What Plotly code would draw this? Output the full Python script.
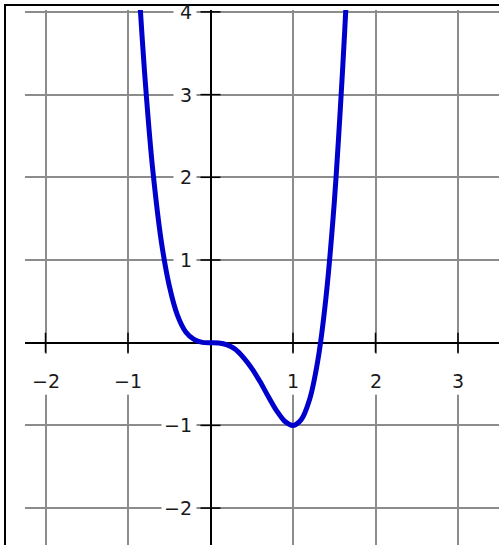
import plotly.graph_objects as go

# Values
curve_x = [-0.9, -0.85, -0.8, -0.75, -0.7, -0.6, -0.5, -0.4, -0.3, -0.2, -0.1, 0.0,
           0.1, 0.2, 0.3, 0.4, 0.5, 0.6, 0.7, 0.8, 0.9, 1.0, 1.1, 1.2, 1.3, 1.4,
           1.5, 1.55, 1.6, 1.65, 1.7]
curve_y = [4.88, 4.02, 3.28, 2.64, 2.09, 1.25, 0.69, 0.33, 0.13, 0.04, 0.004, 0.0,
           -0.004, -0.027, -0.08, -0.18, -0.31, -0.47, -0.65, -0.82, -0.95, -1.0, -0.93, -0.69, -0.22, 0.55,
           1.69, 2.44, 3.28, 4.22, 5.4]

x_ticks = [-2, -1, 1, 2, 3]
y_ticks = [-2, -1, 1, 2, 3, 4]

x_range = [-2.2485, 3.497]
y_range = [-2.446, 4.023]


def lab(v):
    return ("\u2212" + str(abs(v))) if v < 0 else str(v)


fig = go.Figure(go.Scatter(
    x=curve_x, y=curve_y, mode="lines",
    line=dict(color="#0000cc", width=5, shape="spline", smoothing=0.8),
    hoverinfo="skip", showlegend=False))

shapes = []
annotations = []
font = dict(family="DejaVu Sans", size=19, color="#1a1a1a")

for t in x_ticks:
    # white gap in the vertical grid line behind the label
    shapes.append(dict(type="rect", xref="x", yref="y", xsizemode="pixel", xanchor=t,
                       x0=-5, x1=5, ysizemode="pixel", yanchor=0, y0=-11, y1=-52,
                       fillcolor="white", line=dict(width=0), layer="between"))
    # tick cross
    shapes.append(dict(type="line", xref="x", yref="y", x0=t, x1=t, ysizemode="pixel",
                       yanchor=0, y0=-10, y1=10, line=dict(color="black", width=1.5),
                       layer="above"))
    annotations.append(dict(x=t, y=0, xref="x", yref="y", text=lab(t), showarrow=False,
                            xanchor="center", yanchor="middle", yshift=-38.5,
                            font=font, borderpad=0))

for t in y_ticks:
    n = len(lab(t))
    shapes.append(dict(type="rect", xref="x", yref="y", xsizemode="pixel", xanchor=0,
                       x0=-15 - (10 + 12 * n), x1=-14, ysizemode="pixel", yanchor=t,
                       y0=-4, y1=4, fillcolor="white", line=dict(width=0), layer="between"))
    shapes.append(dict(type="line", xref="x", yref="y", y0=t, y1=t, xsizemode="pixel",
                       xanchor=0, x0=-10, x1=10, line=dict(color="black", width=1.5),
                       layer="above"))
    annotations.append(dict(x=0, y=t, xref="x", yref="y", text=lab(t), showarrow=False,
                            xanchor="right", yanchor="middle", xshift=-18,
                            font=font, borderpad=0))

# outer frame (top and left edges)
shapes.append(dict(type="line", xref="paper", yref="paper", x0=(4 - 25) / 474, x1=1.1,
                   y0=(545 - 5) / 535, y1=(545 - 5) / 535, line=dict(color="black", width=2)))
shapes.append(dict(type="line", xref="paper", yref="paper", x0=(5 - 25) / 474, x1=(5 - 25) / 474,
                   y0=(545 - 4) / 535, y1=-0.1, line=dict(color="black", width=2)))

fig.update_layout(
    width=499, height=545,
    margin=dict(l=25, r=0, t=10, b=0),
    paper_bgcolor="white", plot_bgcolor="white",
    xaxis=dict(range=x_range, dtick=1, tick0=0, showgrid=True, gridcolor="#8c8c8c",
               gridwidth=1.5, zeroline=True, zerolinecolor="black", zerolinewidth=1.5,
               showticklabels=False, ticks="", showline=False, fixedrange=True),
    yaxis=dict(range=y_range, dtick=1, tick0=0, showgrid=True, gridcolor="#8c8c8c",
               gridwidth=1.5, zeroline=True, zerolinecolor="black", zerolinewidth=1.5,
               showticklabels=False, ticks="", showline=False, fixedrange=True),
    shapes=shapes, annotations=annotations,
)

fig.write_html("out.html", config={"displayModeBar": False},
               post_script="document.body.style.margin='0';document.body.style.overflow='hidden';")
